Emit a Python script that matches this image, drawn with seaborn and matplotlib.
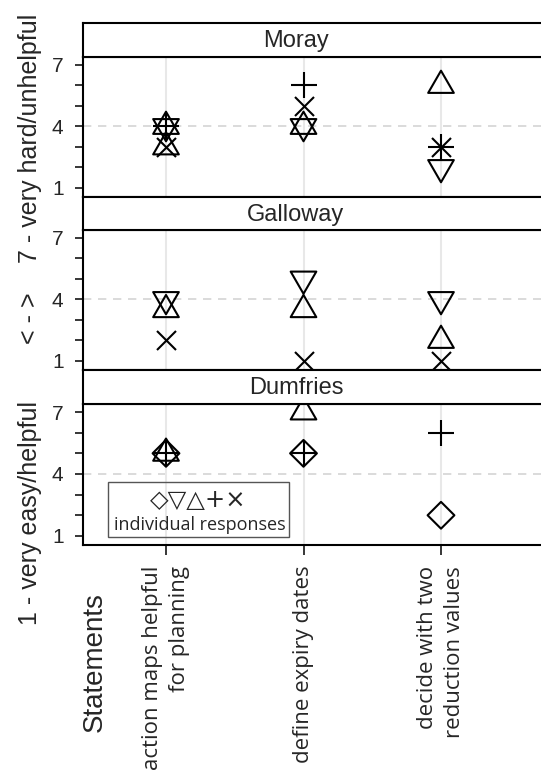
import numpy as np
import pandas as pd
import matplotlib
matplotlib.use("Agg")
import matplotlib.pyplot as plt
from matplotlib.path import Path
from matplotlib.patches import Rectangle
import seaborn as sns

# ---- data -------------------------------------------------------------
regions = ["Moray", "Galloway", "Dumfries"]
statements = ["action maps helpful\nfor planning",
              "define expiry dates",
              "decide with two\nreduction values"]
symbols = ["diamond", "tri_down", "tri_up", "plus", "cross"]

# one entry per plotted response: statement index, respondent symbol, score
moray_item = [0, 0, 0, 0, 0, 1, 1, 1, 1, 2, 2, 2, 2]
moray_symbol = ["tri_up", "tri_down", "plus", "tri_up", "cross",
                "plus", "cross", "tri_up", "tri_down",
                "tri_up", "plus", "cross", "tri_down"]
moray_score = [4, 4, 4, 3, 3, 6, 5, 4, 4, 6, 3, 3, 2]

galloway_item = [0, 0, 0, 1, 1, 1, 2, 2, 2]
galloway_symbol = ["tri_down", "tri_up", "cross",
                   "tri_down", "tri_up", "cross",
                   "tri_down", "tri_up", "cross"]
galloway_score = [4, 3.5, 2, 5, 3.5, 1, 4, 2, 1]

dumfries_item = [0, 0, 0, 1, 1, 1, 2, 2]
dumfries_symbol = ["diamond", "tri_up", "plus",
                   "tri_up", "diamond", "plus",
                   "plus", "diamond"]
dumfries_score = [5, 5, 5, 7, 5, 5, 6, 2]

frames = []
for reg, it, sy, sc in [("Moray", moray_item, moray_symbol, moray_score),
                        ("Galloway", galloway_item, galloway_symbol, galloway_score),
                        ("Dumfries", dumfries_item, dumfries_symbol, dumfries_score)]:
    frames.append(pd.DataFrame({"region": reg, "item": it, "symbol": sy, "score": sc}))
df = pd.concat(frames, ignore_index=True)

# ---- marker shapes ------------------------------------------------------
h = np.sqrt(3) / 2
tri_up = Path([(0, 1.0), (h, -0.5), (-h, -0.5), (0, 1.0)],
              [Path.MOVETO, Path.LINETO, Path.LINETO, Path.CLOSEPOLY])
tri_down = Path([(0, -1.0), (h, 0.5), (-h, 0.5), (0, -1.0)],
                [Path.MOVETO, Path.LINETO, Path.LINETO, Path.CLOSEPOLY])
diamond = Path([(0, 1), (1, 0), (0, -1), (-1, 0), (0, 1)],
               [Path.MOVETO, Path.LINETO, Path.LINETO, Path.LINETO, Path.CLOSEPOLY])

PX = 72 / 100  # points per pixel
marker_spec = {
    "tri_up": dict(marker=tri_up, s=(29.6 * PX) ** 2, open=True),
    "tri_down": dict(marker=tri_down, s=(29.6 * PX) ** 2, open=True),
    "diamond": dict(marker=diamond, s=(26.8 * PX) ** 2, open=True),
    "plus": dict(marker="+", s=(26.8 * PX) ** 2, open=False),
    "cross": dict(marker="x", s=(19.0 * PX) ** 2, open=False),
}

# ---- figure & layout ---------------------------------------------------
sns.set_style("white")
plt.rcParams["font.family"] = ["Liberation Sans", "DejaVu Sans"]

W, H = 541, 775
fig = plt.figure(figsize=(W / 100, H / 100), dpi=100)


def fx(px):
    return px / W


def fy(py):
    return 1 - py / H


left_px, right_px = 83, 545
panels = [(23, 57, 197), (197, 230, 370), (370, 404, 545)]  # strip top, plot top, plot bottom
x_lo = (left_px - 166) / 137.5
x_hi = (right_px - 166) / 137.5

LW = 1.5
MLW = 1.5
axes = []
for i, (reg, (st, pt, pb)) in enumerate(zip(regions, panels)):
    ax = fig.add_axes([fx(left_px), fy(pb), fx(right_px - left_px), (pb - pt) / H])
    axes.append(ax)
    sub = df[df["region"] == reg]

    ax.axhline(4, color="#d4d4d4", lw=1.2, ls=(0, (5, 4)), zorder=0.5)
    for sym in symbols:
        part = sub[sub["symbol"] == sym]
        if part.empty:
            continue
        spec = marker_spec[sym]
        if spec["open"]:
            sns.scatterplot(data=part, x="item", y="score", ax=ax,
                            marker=spec["marker"], s=spec["s"],
                            facecolor="none", edgecolor="black",
                            linewidth=MLW, zorder=3, clip_on=False)
        else:
            sns.scatterplot(data=part, x="item", y="score", ax=ax,
                            marker=spec["marker"], s=spec["s"],
                            color="black", linewidth=MLW, zorder=3,
                            clip_on=False)

    ax.set_xlim(x_lo, x_hi)
    ax.set_ylim(0.56, 7.39)
    ax.set_xlabel("")
    ax.set_ylabel("")
    ax.set_yticks(range(1, 8))
    ax.set_yticklabels(["1", "", "", "4", "", "", "7"])
    ax.set_xticks(range(len(statements)))
    ax.xaxis.grid(True, color="#e8e8e8", lw=1.5)
    ax.set_axisbelow(True)
    for sp in ax.spines.values():
        sp.set_color("black")
        sp.set_linewidth(LW)
    ax.spines["right"].set_visible(False)
    ax.tick_params(axis="y", length=6, width=1.1, direction="out", left=True,
                   labelsize=15, pad=8, color="black")
    if i < 2:
        ax.tick_params(axis="x", length=0, labelbottom=False)
    else:
        ax.set_xticklabels(statements, rotation=90, va="top", ha="center",
                           multialignment="right",
                           fontfamily="Open Sans", fontsize=16)
        for t in ax.get_xticklabels():
            t.set_linespacing(1.4)
        ax.tick_params(axis="x", length=7, width=1.1, direction="out",
                       bottom=True, pad=8, color="black")

    # strip header
    hx = fig.add_axes([fx(left_px), fy(pt), fx(right_px - left_px), (pt - st) / H])
    hx.set_xticks([])
    hx.set_yticks([])
    for sp in hx.spines.values():
        sp.set_color("black")
        sp.set_linewidth(LW)
    hx.spines["right"].set_visible(False)
    fig.text(fx(296), fy((st + pt) / 2 + 1), reg, ha="center", va="center",
             fontsize=17)

# legend box inside the bottom panel
fig.patches.append(Rectangle((fx(108), fy(537)), fx(289 - 108), (537 - 482) / H,
                             transform=fig.transFigure, fill=False,
                             edgecolor="#555555", lw=1.0, zorder=5))
fig.text(fx(198), fy(500), "\u25c7\u25bd\u25b3+\u00d7", ha="center", va="center",
         fontsize=17.5, family=["DejaVu Sans"])
fig.text(fx(200), fy(525), "individual responses", ha="center", va="center",
         fontsize=13, family=["Open Sans"])

# axis titles
fig.text(fx(30), fy(625), "1 - very easy/helpful", rotation=90,
         ha="center", va="bottom", fontsize=18)
fig.text(fx(30), fy(318), "< - >", rotation=90, ha="center", va="center",
         fontsize=18)
fig.text(fx(30), fy(263), "7 - very hard/unhelpful", rotation=90,
         ha="center", va="bottom", fontsize=18)
fig.text(fx(95), fy(662), "Statements", rotation=90, ha="center",
         va="center", fontsize=20)

fig.savefig("out.png", dpi=100)
